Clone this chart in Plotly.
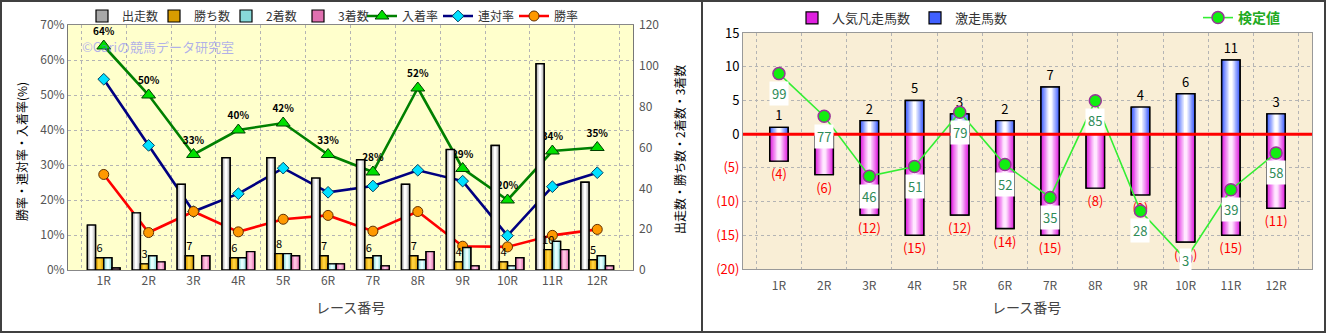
import plotly.graph_objects as go

W, H = 1326, 333
FONT = "Noto Sans CJK JP, Noto Sans, sans-serif"

races = ["1R", "2R", "3R", "4R", "5R", "6R", "7R", "8R", "9R", "10R", "11R", "12R"]

# 左グラフ: 出走数と着別頭数
starters = [22, 28, 42, 55, 55, 45, 54, 42, 59, 61, 101, 43]
wins = [6, 3, 7, 6, 8, 7, 6, 7, 4, 4, 10, 5]
seconds = [6, 7, 0, 6, 8, 3, 7, 5, 11, 2, 14, 7]
thirds = [1, 4, 7, 9, 7, 3, 2, 9, 2, 6, 10, 2]

# 左グラフ: 率 (%)
place_rate = [64, 50, 33, 40, 42, 33, 28, 52, 29, 20, 34, 35]
quinella_rate = [54.5, 35.6, 16.7, 21.8, 29.1, 22.2, 24.0, 28.5, 25.4, 9.8, 23.8, 27.8]
win_rate = [27.3, 10.7, 16.7, 10.9, 14.5, 15.6, 11.1, 16.7, 6.8, 6.6, 9.9, 11.6]

# 右グラフ: 激走馬数 / 人気凡走馬数 / 検定値
upset_horses = [1, 0, 2, 5, 3, 2, 7, 0, 4, 6, 11, 3]
flop_horses = [4, 6, 12, 15, 12, 14, 15, 8, 9, 16, 15, 11]
test_values = [99, 77, 46, 51, 79, 52, 35, 85, 28, 3, 39, 58]

left_ticks = [0, 10, 20, 30, 40, 50, 60, 70]
count_ticks = [0, 20, 40, 60, 80, 100, 120]
right_ticks = [-20, -15, -10, -5, 0, 5, 10, 15]


def dom_x(a, b):
    return [a / W, b / W]


def dom_y(top, bottom):
    return [1 - bottom / H, 1 - top / H]


def mix(c1, c2, f):
    a = [int(c1[i:i + 2], 16) for i in (1, 3, 5)]
    b = [int(c2[i:i + 2], 16) for i in (1, 3, 5)]
    return "rgb({},{},{})".format(*[round(a[i] + (b[i] - a[i]) * f) for i in range(3)])


fig = go.Figure()


def cylinder(x, y, xa, ya, edge, center, width, offset, name, legend,
             text=None, textcolor="black", textsize=12, layers=7):
    """Bar drawn as stacked narrowing layers for a rounded, shaded look."""
    for k in range(layers):
        f = k / (layers - 1)
        w = width * (1 - 0.82 * f)
        fig.add_bar(
            x=x, y=y, xaxis=xa, yaxis=ya, width=w, offset=offset + (width - w) / 2,
            marker=dict(color=mix(edge, center, f),
                        line=dict(width=1.2 if k == 0 else 0, color="black")),
            name=name, legend=legend, showlegend=(k == 0), hoverinfo="skip",
        )
    fig.add_bar(
        x=x, y=y, xaxis=xa, yaxis=ya, width=width, offset=offset,
        marker=dict(color="rgba(0,0,0,0)", line=dict(width=1.4, color="black")),
        text=text, textposition="outside" if text is not None else None,
        textfont=dict(family=FONT, size=textsize, color=textcolor),
        constraintext="none", cliponaxis=False,
        showlegend=False, hoverinfo="skip", legend=legend,
    )


# ---- 左グラフ: 頭数 (右軸) ----
bw = 0.1825
cylinder(races, starters, "x", "y2", "#a8a8a8", "#ffffff", bw, -2 * bw, "出走数", "legend")
cylinder(races, wins, "x", "y2", "#d89c00", "#ffd23c", bw, -bw, "勝ち数", "legend",
         text=[str(v) for v in wins], textsize=11)
cylinder(races, seconds, "x", "y2", "#88dada", "#e4ffff", bw, 0, "2着数", "legend")
cylinder(races, thirds, "x", "y2", "#e070b0", "#ffc4e2", bw, bw, "3着数", "legend")

# ---- 左グラフ: 率 (左軸) ----
fig.add_scatter(
    x=races, y=place_rate, xaxis="x", yaxis="y", name="入着率", legend="legend4",
    mode="lines+markers+text", text=[f"{v}%" for v in place_rate],
    textposition="top center",
    textfont=dict(family=FONT, size=10, color="black", weight="bold"),
    line=dict(color="#008000", width=2.6),
    marker=dict(symbol="triangle-up", size=12, color="#00e000",
                line=dict(color="#004000", width=1)),
    cliponaxis=False, hoverinfo="skip",
)
fig.add_scatter(
    x=races, y=quinella_rate, xaxis="x", yaxis="y", name="連対率", legend="legend4",
    mode="lines+markers", line=dict(color="#000080", width=2.6),
    marker=dict(symbol="diamond", size=9, color="#00e0ff",
                line=dict(color="#004060", width=1)),
    hoverinfo="skip",
)
fig.add_scatter(
    x=races, y=win_rate, xaxis="x", yaxis="y", name="勝率", legend="legend4",
    mode="lines+markers", line=dict(color="#ff0000", width=2.6),
    marker=dict(symbol="circle", size=10, color="#ff9900",
                line=dict(color="#603000", width=1)),
    hoverinfo="skip",
)

# ---- 右グラフ: 馬数 ----
rw = 0.41
cylinder(races, [-v for v in flop_horses], "x2", "y3", "#e020e0", "#ffe8ff", rw, -rw / 2,
         "人気凡走馬数", "legend2", text=[f"({v})" for v in flop_horses],
         textcolor="#ff0000", textsize=13)
cylinder(races, upset_horses, "x2", "y3", "#4060ff", "#ffffff", rw, -rw / 2,
         "激走馬数", "legend2", text=[str(v) if v else "" for v in upset_horses],
         textcolor="black", textsize=13)

# ---- 右グラフ: 検定値 ----
fig.add_scatter(
    x=races, y=test_values, xaxis="x2", yaxis="y4", name="検定値", legend="legend3",
    mode="lines+markers", line=dict(color="#33ee33", width=1.6),
    marker=dict(symbol="circle", size=12, color="#11ee11",
                line=dict(color="#993399", width=1.5)),
    cliponaxis=False, hoverinfo="skip",
)

y4_range = [-2, 120]
y4_per_px = (y4_range[1] - y4_range[0]) / (269 - 33)
annotations = []
for r, v in zip(races, test_values):
    room = (v - y4_range[0]) / y4_per_px - 9
    annotations.append(dict(
        x=r, y=v, xref="x2", yref="y4", text=str(v), showarrow=False,
        yshift=-min(20, max(room, 0)), bgcolor="white", borderpad=2,
        font=dict(family=FONT, size=13, color="#2e8b57"),
    ))

# 軸タイトル・透かし
title_font = dict(family=FONT, size=12, color="black")
annotations += [
    dict(x=22 / W, y=1 - 152 / H, xref="paper", yref="paper", text="勝率・連対率・入着率(%)",
         textangle=-90, showarrow=False, xanchor="center", yanchor="middle", font=title_font),
    dict(x=679 / W, y=1 - 150 / H, xref="paper", yref="paper", text="出走数・勝ち数・2着数・3着数",
         textangle=-90, showarrow=False, xanchor="center", yanchor="middle", font=title_font),
    dict(x=350 / W, y=1 - 307 / H, xref="paper", yref="paper", text="レース番号",
         showarrow=False, xanchor="center", yanchor="middle",
         font=dict(family=FONT, size=14, color="#444")),
    dict(x=1026 / W, y=1 - 307 / H, xref="paper", yref="paper", text="レース番号",
         showarrow=False, xanchor="center", yanchor="middle",
         font=dict(family=FONT, size=14, color="#444")),
    dict(x=80 / W, y=1 - 46 / H, xref="paper", yref="paper", xanchor="left", yanchor="middle",
         text="©Cariの競馬データ研究室", showarrow=False,
         font=dict(family=FONT, size=13, color="rgba(110,110,255,0.55)")),
]

grid = dict(showgrid=True, gridcolor="#b4b4b4", griddash="dot", gridwidth=1)
tickfont = dict(family=FONT, size=12, color="#555")
legend_common = dict(orientation="h", xanchor="left", yanchor="middle",
                     bgcolor="rgba(0,0,0,0)", itemwidth=30)

fig.update_layout(
    width=W, height=H, margin=dict(l=0, r=0, t=0, b=0, autoexpand=False),
    paper_bgcolor="white", barmode="overlay",
    font=dict(family=FONT),
    xaxis=dict(domain=dom_x(68, 633), anchor="y", type="category", tickson="boundaries",
               ticks="", showline=True, linecolor="#888", mirror=True, tickfont=tickfont,
               automargin=False, **grid),
    yaxis=dict(domain=dom_y(25, 270), anchor="x", range=[0, 70], tickvals=left_ticks,
               ticktext=[f"{t}%" for t in left_ticks],
               showline=True, linecolor="#777", mirror=True, automargin=False,
               tickfont=tickfont, ticks="", zeroline=False, **grid),
    yaxis2=dict(overlaying="y", side="right", anchor="x", range=[0, 120],
                tickvals=count_ticks, tickfont=tickfont, showgrid=False, ticks="",
                ticklabelstandoff=5, zeroline=False, showline=False, automargin=False),
    xaxis2=dict(domain=dom_x(743, 1312), anchor="y3", type="category", tickson="boundaries",
                ticks="", showline=True, linecolor="#999", mirror=True, tickfont=tickfont,
                ticklabelstandoff=6, automargin=False, **grid),
    yaxis3=dict(domain=dom_y(33, 269), anchor="x2", range=[-20, 15], tickvals=right_ticks,
                ticktext=[f"<span style='color:#ff0000'>({-t})</span>" if t < 0 else str(t)
                          for t in right_ticks],
                tickfont=dict(family=FONT, size=13, color="black"), ticks="",
                showline=True, linecolor="#999", mirror=True, zeroline=False,
                automargin=False, **grid),
    yaxis4=dict(overlaying="y3", anchor="x2", range=y4_range, visible=False,
                automargin=False),
    plot_bgcolor="#ffffcc",
    legend=dict(x=82 / W, y=1 - 16 / H, font=dict(family=FONT, size=12, color="#333"),
                entrywidth=27, entrywidthmode="pixels", **legend_common),
    legend4=dict(x=362 / W, y=1 - 16 / H, font=dict(family=FONT, size=12, color="#333"),
                 entrywidth=31, entrywidthmode="pixels", **legend_common),
    legend2=dict(x=792 / W, y=1 - 18 / H, font=dict(family=FONT, size=13, color="#333"),
                 **legend_common),
    legend3=dict(x=1198 / W, y=1 - 18 / H,
                 font=dict(family=FONT, size=14, color="#22aa22", weight="bold"),
                 **legend_common),
    annotations=annotations,
    shapes=[
        # 右グラフの背景
        dict(type="rect", xref="x2 domain", yref="y3 domain", x0=0, x1=1, y0=0, y1=1,
             fillcolor="#f9eed6", line=dict(width=0), layer="below"),
        # 基準線 0
        dict(type="line", xref="x2 domain", yref="y3", x0=0, x1=1, y0=0, y1=0,
             line=dict(color="#ff0000", width=3), layer="above"),
        # 外枠と仕切り
        dict(type="rect", xref="paper", yref="paper", x0=1 / W, x1=1 - 1 / W,
             y0=1 / H, y1=1 - 1 / H, line=dict(color="#404040", width=2)),
        dict(type="line", xref="paper", yref="paper", x0=702 / W, x1=702 / W, y0=0, y1=1,
             line=dict(color="#404040", width=2)),
    ],
)

fig.write_html("out.html")
